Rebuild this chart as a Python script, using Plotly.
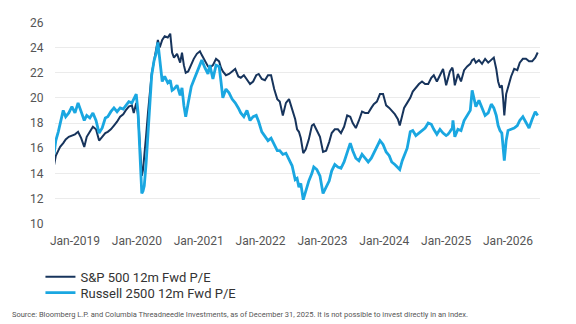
import plotly.graph_objects as go

# Time axis in decimal years
years = [
    2018.66, 2018.69, 2018.73, 2018.76, 2018.81, 2018.85, 2018.90, 2018.95, 2019.00, 2019.05,
    2019.10, 2019.15, 2019.19, 2019.24, 2019.29, 2019.34, 2019.39, 2019.44, 2019.49, 2019.53,
    2019.58, 2019.63, 2019.68, 2019.73, 2019.78, 2019.82, 2019.87, 2019.92, 2019.95, 2019.99,
    2020.02, 2020.05, 2020.07, 2020.08, 2020.10, 2020.12, 2020.15, 2020.18, 2020.21, 2020.24,
    2020.28, 2020.31, 2020.34, 2020.37, 2020.41, 2020.45, 2020.50, 2020.54, 2020.57, 2020.60,
    2020.65, 2020.70, 2020.73, 2020.76, 2020.79, 2020.83, 2020.88, 2020.92, 2020.97, 2021.02,
    2021.05, 2021.10, 2021.15, 2021.18, 2021.23, 2021.28, 2021.33, 2021.36, 2021.39, 2021.44,
    2021.49, 2021.54, 2021.59, 2021.64, 2021.68, 2021.73, 2021.78, 2021.83, 2021.88, 2021.93,
    2021.97, 2022.02, 2022.07, 2022.12, 2022.17, 2022.22, 2022.27, 2022.31, 2022.36, 2022.41,
    2022.46, 2022.51, 2022.56, 2022.59, 2022.62, 2022.65, 2022.69, 2022.73, 2022.78, 2022.83,
    2022.86, 2022.91, 2022.96, 2023.01, 2023.06, 2023.11, 2023.15, 2023.20, 2023.25, 2023.30,
    2023.35, 2023.40, 2023.45, 2023.49, 2023.54, 2023.59, 2023.64, 2023.69, 2023.74, 2023.79,
    2023.83, 2023.88, 2023.93, 2023.98, 2024.03, 2024.08, 2024.12, 2024.17, 2024.22, 2024.25,
    2024.29, 2024.32, 2024.37, 2024.42, 2024.46, 2024.51, 2024.56, 2024.61, 2024.66, 2024.71,
    2024.76, 2024.80, 2024.85, 2024.90, 2024.95, 2025.00, 2025.03, 2025.06, 2025.10, 2025.11,
    2025.14, 2025.19, 2025.24, 2025.29, 2025.34, 2025.39, 2025.42, 2025.45, 2025.48, 2025.53,
    2025.58, 2025.63, 2025.68, 2025.73, 2025.77, 2025.81, 2025.84, 2025.87, 2025.90, 2025.92,
    2025.94, 2025.97, 2026.00, 2026.05, 2026.10, 2026.15, 2026.19, 2026.24, 2026.29, 2026.34,
    2026.39, 2026.44, 2026.48,
]

sp500_pe = [
    14.6, 15.4, 15.8, 16.1, 16.4, 16.7, 16.9, 17.0, 17.1, 17.3,
    16.8, 16.1, 16.9, 17.3, 17.7, 17.5, 16.6, 16.9, 17.2, 17.3,
    17.5, 17.8, 18.1, 18.5, 18.7, 19.0, 19.3, 19.4, 18.8, 19.6,
    18.6, 16.2, 14.8, 13.8, 14.3, 15.2, 17.0, 18.8, 20.6, 21.9,
    23.0, 23.9, 24.6, 24.0, 24.6, 24.9, 24.8, 25.1, 23.6, 23.2,
    23.5, 22.8, 23.6, 22.6, 22.0, 22.1, 22.7, 23.1, 23.5, 23.7,
    23.4, 22.9, 22.5, 22.4, 22.6, 23.1, 22.9, 22.4, 22.1, 21.8,
    21.9, 22.1, 22.3, 21.7, 21.6, 21.8, 21.4, 21.1, 21.3, 21.8,
    21.9, 21.5, 21.4, 21.8, 21.8, 20.7, 19.9, 19.7, 18.6, 19.6,
    19.9, 19.1, 18.3, 17.5, 17.3, 16.8, 15.6, 15.9, 16.7, 17.8,
    17.9, 17.4, 16.9, 15.7, 15.8, 16.5, 17.2, 17.5, 17.5, 17.2,
    17.7, 18.6, 18.5, 18.0, 17.6, 18.2, 18.9, 18.8, 18.8, 19.2,
    19.5, 19.7, 20.3, 20.3, 19.4, 19.2, 19.0, 18.7, 18.3, 17.8,
    18.6, 19.2, 19.6, 20.0, 20.5, 20.8, 21.1, 21.3, 21.1, 21.1,
    21.6, 21.8, 21.3, 21.8, 22.3, 21.0, 21.6, 22.1, 22.4, 22.2,
    21.0, 21.9, 21.3, 22.2, 22.5, 22.7, 23.0, 23.1, 22.8, 23.0,
    22.7, 23.1, 22.8, 23.0, 23.2, 22.3, 21.3, 20.8, 21.0, 20.0,
    18.6, 20.3, 20.8, 21.7, 22.3, 22.2, 22.8, 23.1, 23.1, 22.9,
    22.9, 23.2, 23.6,
]

russell2500_pe = [
    15.5, 16.6, 17.3, 18.0, 19.0, 18.5, 18.8, 19.3, 18.8, 19.6,
    18.8, 18.2, 18.6, 18.4, 18.8, 18.2, 17.2, 17.6, 18.4, 18.5,
    18.9, 19.2, 18.9, 19.2, 19.1, 19.4, 19.7, 19.6, 19.9, 20.3,
    18.8, 15.8, 14.2, 12.4, 12.6, 13.0, 14.8, 17.0, 19.5, 21.8,
    23.0, 23.5, 24.4, 23.2, 21.3, 21.7, 21.2, 21.4, 20.6, 20.7,
    21.0, 20.2, 20.8, 19.4, 18.5, 19.6, 20.9, 21.4, 22.0, 22.5,
    23.0, 22.4, 21.9, 22.6, 21.5, 22.6, 22.5, 21.3, 20.0, 20.7,
    20.4, 19.9, 19.6, 19.2, 18.8, 18.5, 19.0, 18.2, 18.5, 18.6,
    18.1, 17.3, 16.9, 16.6, 16.8, 16.3, 15.8, 15.8, 15.5, 15.6,
    15.1, 14.6, 13.5, 13.6, 12.9, 13.2, 11.9, 12.6, 13.4, 14.0,
    14.5, 14.3, 13.8, 12.4, 12.9, 13.4, 14.2, 14.7, 14.5, 14.4,
    14.9, 15.7, 16.4, 15.8, 15.2, 15.0, 15.5, 15.2, 14.9, 15.2,
    15.6, 16.1, 16.6, 16.3, 15.7, 15.4, 14.9, 14.7, 14.4, 14.3,
    15.0, 15.4, 16.0, 17.3, 17.4, 17.0, 17.2, 17.4, 17.6, 18.0,
    17.9, 17.5, 17.1, 17.5, 17.2, 17.0, 17.1, 17.3, 17.6, 18.2,
    16.9, 17.5, 17.4, 18.2, 18.6, 19.0, 20.6, 20.0, 19.3, 19.8,
    19.2, 18.6, 18.8, 19.5, 19.2, 18.6, 17.8, 17.4, 17.2, 16.2,
    15.0, 16.6, 17.4, 17.5, 17.6, 17.8, 18.2, 18.5, 18.1, 17.6,
    18.3, 18.9, 18.6,
]

tick_years = [2019, 2020, 2021, 2022, 2023, 2024, 2025, 2026]
tick_labels = ["Jan-2019", "Jan-2020", "Jan-2021", "Jan-2022",
               "Jan-2023", "Jan-2024", "Jan-2025", "Jan-2026"]
y_ticks = [10, 12, 14, 16, 18, 20, 22, 24, 26]

series_names = ["S&P 500 12m Fwd P/E", "Russell 2500 12m Fwd P/E"]
source_text = ("Source: Bloomberg L.P. and Columbia Threadneedle Investments, as of "
               "December 31, 2025. It is not possible to invest directly in an index.")

DARK = "#17345c"
LIGHT = "#1aa7e1"

fig = go.Figure()
fig.add_trace(go.Scatter(x=years, y=sp500_pe, mode="lines", name=series_names[0],
                         line=dict(color=DARK, width=2), legend="legend"))
fig.add_trace(go.Scatter(x=years, y=russell2500_pe, mode="lines", name=series_names[1],
                         line=dict(color=LIGHT, width=2.8), legend="legend2"))

legend_common = dict(orientation="v", x=-0.03, xanchor="left", yanchor="middle",
                     font=dict(size=13, color="#333333"), itemwidth=30,
                     bgcolor="rgba(0,0,0,0)")

fig.update_layout(
    width=576, height=324,
    margin=dict(l=55, r=36, t=22, b=100),
    paper_bgcolor="white", plot_bgcolor="white",
    font=dict(family="Roboto, Arial, sans-serif", color="#555555"),
    showlegend=True,
    legend=dict(y=-0.262, **legend_common),
    legend2=dict(y=-0.340, **legend_common),
    xaxis=dict(range=[2018.677, 2026.517], tickvals=tick_years, ticktext=tick_labels,
               showgrid=False, zeroline=False, showline=False,
               ticks="outside", ticklen=6, tickcolor="rgba(0,0,0,0)",
               tickfont=dict(size=12, color="#555555")),
    yaxis=dict(range=[9.97, 26.03], tickvals=y_ticks, showgrid=True,
               gridcolor="#ebebeb", gridwidth=1, zeroline=False, showline=False,
               ticks="outside", ticklen=8, tickcolor="rgba(0,0,0,0)",
               tickfont=dict(size=12, color="#555555")),
    annotations=[dict(text=source_text, xref="paper", yref="paper",
                      x=-0.093, xanchor="left", y=-0.447, yanchor="middle",
                      showarrow=False, font=dict(size=7.5, color="#555555"))],
)

fig.write_html("out.html")
